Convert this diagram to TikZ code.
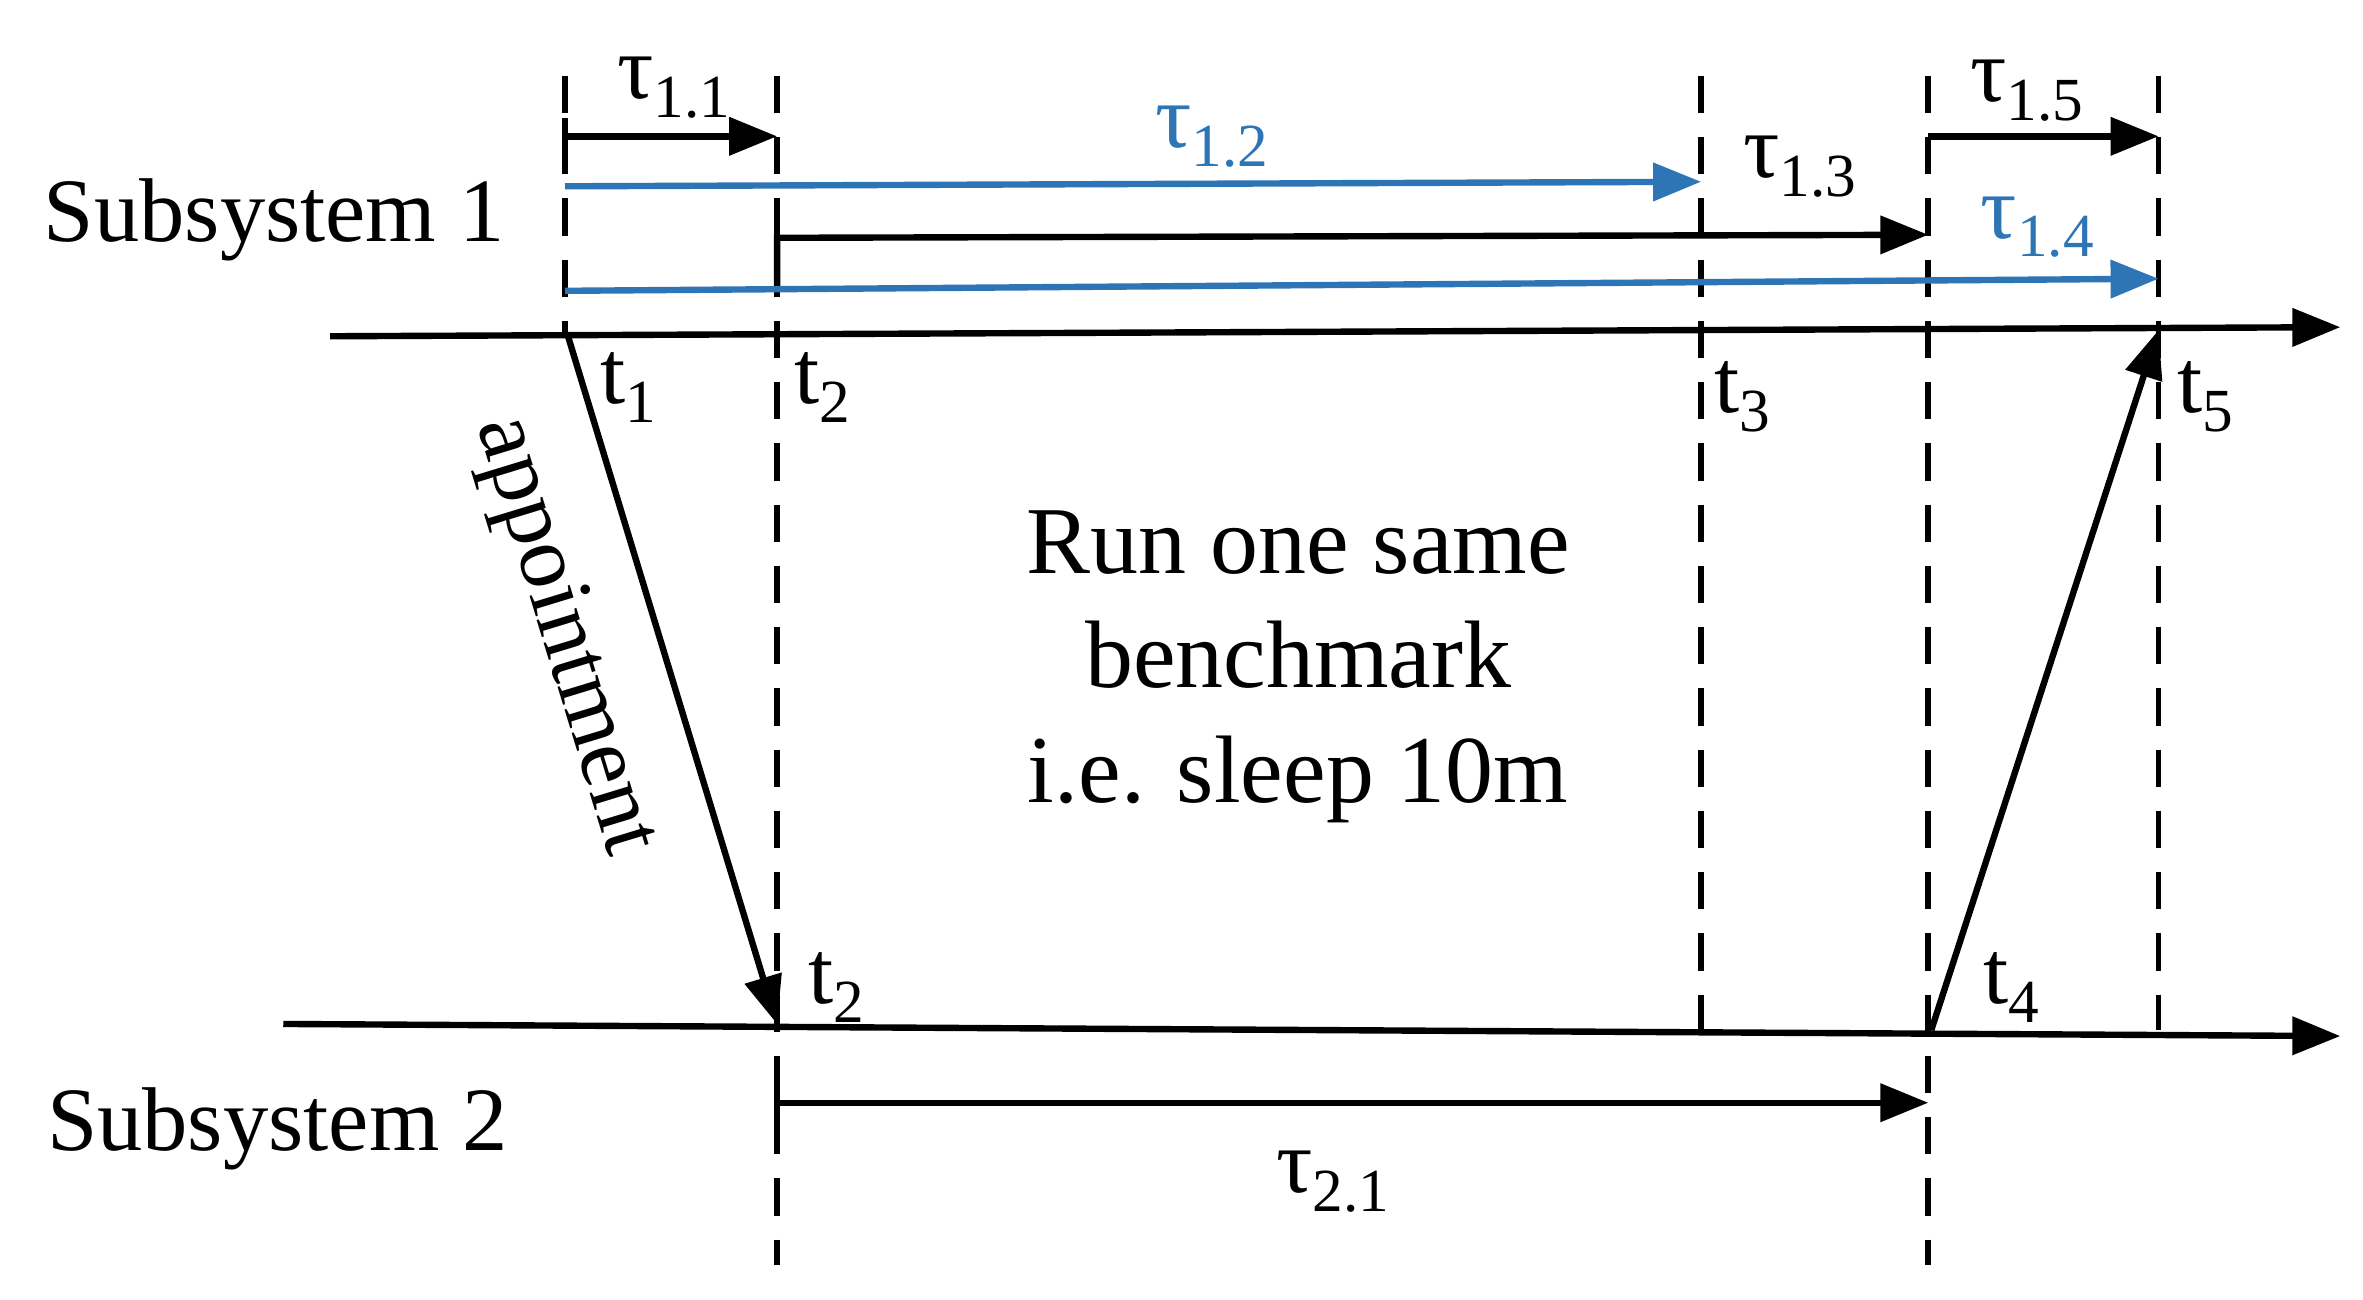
\documentclass[tikz,border=0pt]{standalone}
\usepackage{fontspec}
\setmainfont{Liberation Serif}
\usetikzlibrary{arrows.meta}
\definecolor{bl}{RGB}{46,117,182}
\newcommand\sbs[1]{\raisebox{-.45ex}{\fontsize{11.5}{11.5}\selectfont #1}}
\begin{document}
\begin{tikzpicture}[x=0.01cm,y=-0.01cm,
  ln/.style={line width=1.2pt},
  ar/.style={ln,-{Triangle[length=9pt,width=7pt]}},
  dsh/.style={line width=1.1pt,dash pattern=on 7pt off 4.5pt},
  lb/.style={font=\fontsize{17}{17}\selectfont,inner sep=0pt},
  big/.style={font=\fontsize{18}{21.5}\selectfont,inner sep=0pt,align=center}]
\useasboundingbox (0,0) rectangle (1560,858);
\foreach \n/\x in {a/373,b/513,c/1123,d/1273,e/1425}{\coordinate (\n top) at (\x,50);}
\coordinate (abot) at (373,220);
\coordinate (bbot) at (513,835);
\coordinate (cbot) at (1123,680);
\coordinate (dbot) at (1273,835);
\coordinate (ebot) at (1425,680);
\foreach \n in {a,b,c,d,e}{\draw[dsh] (\n top) -- (\n bot);}
\coordinate (ax1s) at (218,222); \coordinate (ax1e) at (1545,216);
\coordinate (ax2s) at (187,676); \coordinate (ax2e) at (1545,684);
\draw[ar] (ax1s) -- (ax1e);
\draw[ar] (ax2s) -- (ax2e);
\coordinate (p11a) at (373,90); \coordinate (p11b) at (513,90);
\draw[ar] (p11a) -- (p11b);
\draw[ln] (373,78) -- (373,102);
\coordinate (p12a) at (373,123); \coordinate (p12b) at (1123,120);
\draw[ar,bl] (p12a) -- (p12b);
\coordinate (p13a) at (513,190); \coordinate (p13m) at (513,157); \coordinate (p13b) at (1273,155);
\draw[ar] (p13a) -- (p13m) -- (p13b);
\coordinate (p14a) at (373,192); \coordinate (p14b) at (1425,184);
\draw[ar,bl] (p14a) -- (p14b);
\coordinate (p15a) at (1273,90); \coordinate (p15b) at (1425,90);
\draw[ar] (p15a) -- (p15b);
\coordinate (p21a) at (513,728); \coordinate (p21b) at (1273,728);
\draw[ar] (p21a) -- (p21b);
\draw[ln] (513,715) -- (513,741);
\coordinate (s1) at (375,222); \coordinate (s2) at (513,676);
\draw[ar] (s1) -- (s2);
\coordinate (s3) at (1275,680); \coordinate (s4) at (1425,218);
\draw[ar] (s3) -- (s4);
\node[lb] (l11) at (445,58) {τ\sbs{1.1}};
\node[lb,bl] (l12) at (800,90) {τ\sbs{1.2}};
\node[lb] (l13) at (1188,110) {τ\sbs{1.3}};
\node[lb,bl] (l14) at (1345,150) {τ\sbs{1.4}};
\node[lb] (l15) at (1338,60) {τ\sbs{1.5}};
\node[lb] (l21) at (880,780) {τ\sbs{2.1}};
\node[lb] (t1) at (415,256) {t\sbs{1}};
\node[lb] (t2) at (543,256) {t\sbs{2}};
\node[lb] (t3) at (1150,262) {t\sbs{3}};
\node[lb] (t5) at (1456,262) {t\sbs{5}};
\node[lb] (t2b) at (552,652) {t\sbs{2}};
\node[lb] (t4) at (1328,652) {t\sbs{4}};
\node[lb] (s1l) at (181,145) {Subsystem 1};
\node[lb] (s2l) at (183,745) {Subsystem 2};
\node[lb,rotate=-73] (app) at (372,420) {appointment};
\node[big] (mid) at (857,440) {Run one same\\benchmark\\i.e. sleep 10m};
\end{tikzpicture}
\end{document}
